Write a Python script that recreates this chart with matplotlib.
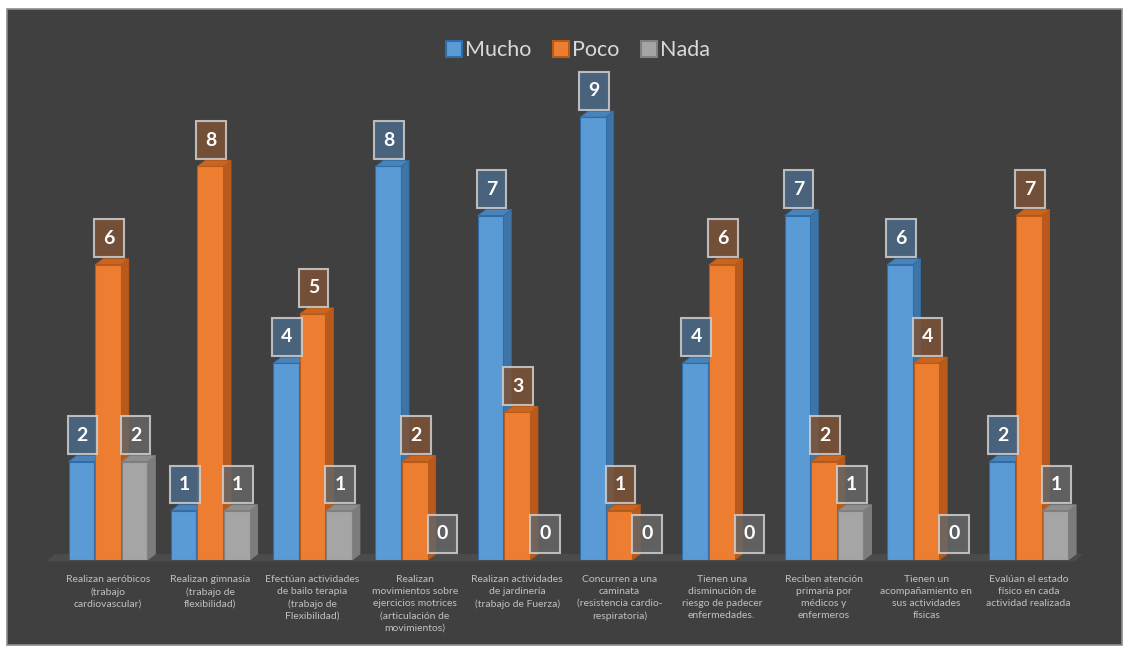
import matplotlib.pyplot as plt
from matplotlib.patches import Rectangle, Polygon, Patch

plt.rcParams["font.family"] = ["Lato", "DejaVu Sans"]

categories = [
    "Realizan aeróbicos\n(trabajo\ncardiovascular)",
    "Realizan gimnasia\n(trabajo de\nflexibilidad)",
    "Efectúan actividades\nde bailo terapia\n(trabajo de\nFlexibilidad)",
    "Realizan\nmovimientos sobre\nejercicios motrices\n(articulación de\nmovimientos)",
    "Realizan actividades\nde jardinería\n(trabajo de Fuerza)",
    "Concurren a una\ncaminata\n(resistencia cardio-\nrespiratoria)",
    "Tienen una\ndisminución de\nriesgo de padecer\nenfermedades.",
    "Reciben atención\nprimaria por\nmédicos y\nenfermeros",
    "Tienen un\nacompañamiento en\nsus actividades\nfísicas",
    "Evalúan el estado\nfísico en cada\nactividad realizada",
]
mucho = [2, 1, 4, 8, 7, 9, 4, 7, 6, 2]
poco = [6, 8, 5, 2, 3, 1, 6, 2, 4, 7]
nada = [2, 1, 1, 0, 0, 0, 0, 1, 0, 1]
series_names = ["Mucho", "Poco", "Nada"]

# frente, lado, tapa, borde, caja etiqueta
styles = [
    ("#5B9BD5", "#3F74A6", "#4A82BA", "#2F6DA8", "#4C6A87"),
    ("#ED7D31", "#B95A1C", "#C9651F", "#B85A18", "#7E5237"),
    ("#A5A5A5", "#7C7C7C", "#8E8E8E", "#808080", "#666666"),
]

BG = "#404040"
fig = plt.figure(figsize=(11.3, 6.5), dpi=100)
fig.patch.set_facecolor("white")
panel = Rectangle((7 / 1130, 5 / 650), 1115 / 1130, 636 / 650,
                  transform=fig.transFigure, facecolor=BG,
                  edgecolor="#8C8C8C", linewidth=1.2, zorder=-5)
fig.patches.append(panel)

ax = fig.add_axes([0.0412, 0.1385, 0.9235, 0.7948])
ax.set_zorder(2)
ax.set_facecolor("none")
ax.set_xlim(-0.6, 9.6)
ax.set_ylim(0, 10.5)
ax.axis("off")

w = 0.25
offs = [-0.26, 0.0, 0.26]
dx, dy = 0.078, 0.122

# piso
ax.add_patch(Polygon([(-0.6, -0.03), (9.45, -0.03), (9.45 + dx, dy), (-0.6 + dx, dy)],
                     closed=True, facecolor="#4B4B4B", edgecolor="none", zorder=1,
                     clip_on=False))

for s, vals in enumerate([mucho, poco, nada]):
    front, side, top, edge, boxc = styles[s]
    for i, v in enumerate(vals):
        x0 = i + offs[s] - w / 2
        z = 2 + s
        if v > 0:
            ax.bar(i + offs[s], v, width=w, color=front, edgecolor=edge,
                   linewidth=0.8, zorder=z + 0.2)
            ax.add_patch(Polygon([(x0 + w, 0), (x0 + w + dx, dy), (x0 + w + dx, v + dy), (x0 + w, v)],
                                 closed=True, facecolor=side, edgecolor=edge,
                                 linewidth=0.6, zorder=z + 0.1))
            ax.add_patch(Polygon([(x0, v), (x0 + dx, v + dy), (x0 + w + dx, v + dy), (x0 + w, v)],
                                 closed=True, facecolor=top, edgecolor=edge,
                                 linewidth=0.6, zorder=z + 0.1))
        # caja de etiqueta
        bw, bh = 0.29, 0.77
        bx = i + offs[s] + 0.01 - bw / 2
        by = v + 0.15
        ax.add_patch(Rectangle((bx, by), bw, bh, facecolor=boxc, alpha=0.85,
                               edgecolor="#D0D0D0", linewidth=1.5, zorder=10,
                               clip_on=False))
        ax.text(bx + bw / 2, by + bh / 2, str(v), ha="center", va="center",
                color="white", fontsize=14, fontweight="bold", zorder=11)

for i, lab in enumerate(categories):
    ax.text(i, -0.3, lab, ha="center", va="top", color="#C0C0C0",
            fontsize=7.5, linespacing=1.45)

handles = [Patch(facecolor=styles[k][0], edgecolor=styles[k][3], linewidth=1.5)
           for k in range(3)]
leg = fig.legend(handles, series_names, loc="upper center", bbox_to_anchor=(0.5115, 0.968),
                 ncol=3, frameon=False, fontsize=15.5, handlelength=0.75, handleheight=0.75,
                 handletextpad=0.15, columnspacing=1.0)
for t in leg.get_texts():
    t.set_color("#D9D9D9")

fig.savefig("out.png", dpi=100, facecolor=fig.get_facecolor())
